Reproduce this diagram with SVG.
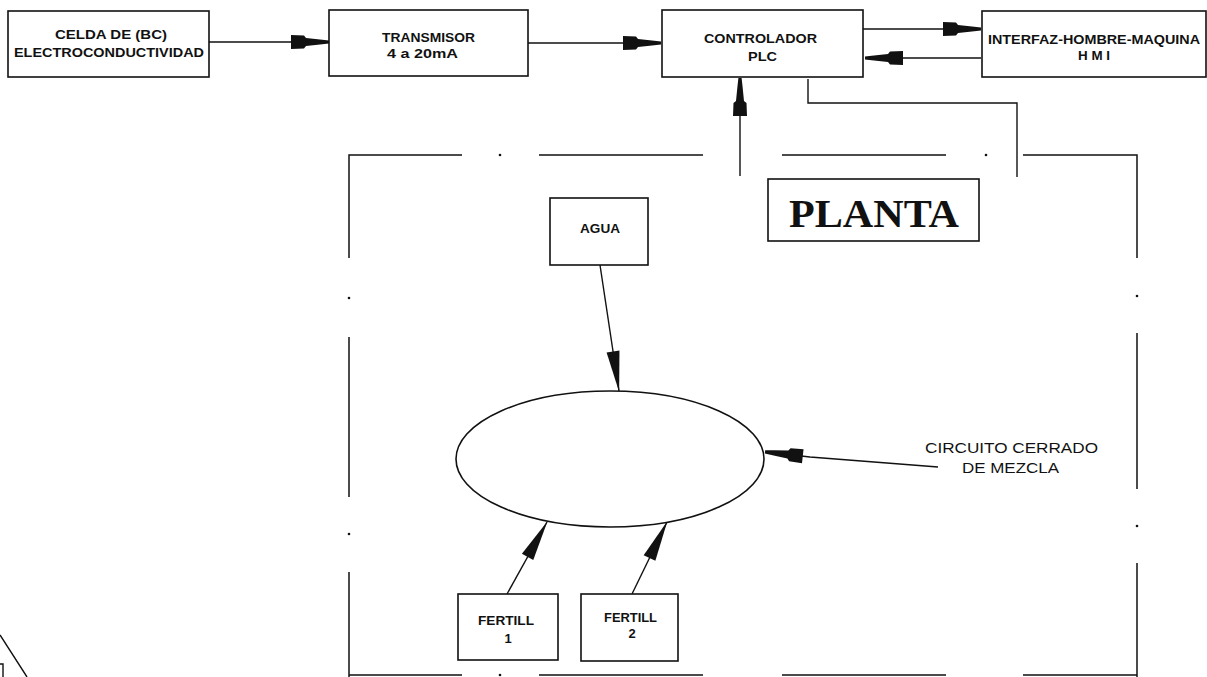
<svg xmlns="http://www.w3.org/2000/svg" width="1207" height="677" viewBox="0 0 1207 677">
<style>
  .box{fill:#fff;stroke:#111;stroke-width:1.6}
  .t{font-family:"Liberation Sans",Arial,sans-serif;font-weight:bold;font-size:13px;fill:#111}
  .tr{font-family:"Liberation Sans",Arial,sans-serif;font-size:14px;fill:#111}
  .big{font-family:"Liberation Serif","Times New Roman",serif;font-weight:bold;font-size:40px;fill:#111}
  .ln{fill:none;stroke:#111;stroke-width:1.4}
  .fr{fill:none;stroke:#111;stroke-width:1.5}
  .dot{fill:#111}
</style>
<defs>
  <marker id="fat" markerUnits="userSpaceOnUse" orient="auto" overflow="visible" markerWidth="1" markerHeight="1" refX="0" refY="0">
    <path d="M1,-1.6 L-8,-2.6 L-22,-4 L-24,-6.5 L-37,-7 L-37,7 L-24,6.5 L-22,4 L-8,2.6 L1,1.6 Z" fill="#111"/>
  </marker>
  <marker id="thin" markerUnits="userSpaceOnUse" orient="auto" overflow="visible" markerWidth="1" markerHeight="1" refX="0" refY="0">
    <path d="M1,0 L-40,-6.5 L-40,6.5 Z" fill="#111"/>
  </marker>
</defs>
<rect width="1207" height="677" fill="#fff"/>

<g id="frame">
  <path class="fr" d="M349,258 V155 H462 M539,155 H703 M782,155 H946 M1023,155 H1137 V258"/>
  <path class="fr" d="M349,337 V497 M349,572 V677 M1137,333 V489 M1137,563 V677"/>
  <path class="fr" d="M349,675 H462 M539,675 H703 M782,675 H946 M1023,675 H1137"/>
  <circle class="dot" cx="500" cy="155" r="1.3"/>
  <circle class="dot" cx="986" cy="155" r="1.3"/>
  <circle class="dot" cx="349" cy="298" r="1.3"/>
  <circle class="dot" cx="349" cy="534" r="1.3"/>
  <circle class="dot" cx="1137" cy="296" r="1.3"/>
  <circle class="dot" cx="1137" cy="526" r="1.3"/>
  <circle class="dot" cx="500" cy="675" r="1.3"/>
</g>

<g id="corner">
  <path class="ln" d="M0,635 L27,677 M0,664 H3 V677"/>
</g>

<g id="connectors">
  <path class="ln" d="M209,42 H328" marker-end="url(#fat)"/>
  <path class="ln" d="M528,43 H660" marker-end="url(#fat)"/>
  <path class="ln" d="M863,29 H980" marker-end="url(#fat)"/>
  <path class="ln" d="M981,58 H866" marker-end="url(#fat)"/>
  <path class="ln" d="M740,176 V79" marker-end="url(#fat)"/>
  <path class="ln" d="M808,79 V103 H1017 V177"/>
  <path class="ln" d="M600,265 L619,391" marker-end="url(#thin)"/>
  <path class="ln" d="M938,467 L810,457 L766,452" marker-end="url(#fat)"/>
  <path class="ln" d="M507,594 L547,522" marker-end="url(#thin)"/>
  <path class="ln" d="M632,594 L667,522" marker-end="url(#thin)"/>
</g>

<g id="celda">
  <rect class="box" x="8" y="11" width="201" height="66"/>
  <text class="t" x="55" y="39" textLength="112" lengthAdjust="spacingAndGlyphs">CELDA DE (BC)</text>
  <text class="t" x="14" y="57" textLength="190" lengthAdjust="spacingAndGlyphs">ELECTROCONDUCTIVIDAD</text>
</g>

<g id="transmisor">
  <rect class="box" x="329" y="10" width="199" height="66"/>
  <text class="t" x="382" y="42" textLength="93" lengthAdjust="spacingAndGlyphs">TRANSMISOR</text>
  <text class="t" x="387" y="58" textLength="71" lengthAdjust="spacingAndGlyphs">4 a 20mA</text>
</g>

<g id="controlador">
  <rect class="box" x="662" y="10" width="201" height="67"/>
  <text class="t" x="704" y="43" textLength="113" lengthAdjust="spacingAndGlyphs">CONTROLADOR</text>
  <text class="t" x="748" y="61" textLength="29" lengthAdjust="spacingAndGlyphs">PLC</text>
</g>

<g id="hmi">
  <rect class="box" x="982" y="11" width="224" height="66"/>
  <text class="t" x="988" y="44" textLength="212" lengthAdjust="spacingAndGlyphs">INTERFAZ-HOMBRE-MAQUINA</text>
  <text class="t" x="1078" y="60" textLength="32" lengthAdjust="spacingAndGlyphs">H M I</text>
</g>

<g id="planta">
  <rect class="box" x="768" y="179" width="211" height="62"/>
  <text class="big" x="789" y="227" textLength="170" lengthAdjust="spacingAndGlyphs">PLANTA</text>
</g>

<g id="agua">
  <rect class="box" x="550" y="198" width="98" height="67"/>
  <text class="t" x="580" y="233" textLength="40" lengthAdjust="spacingAndGlyphs">AGUA</text>
</g>

<g id="mezcla">
  <ellipse cx="610" cy="459" rx="154" ry="68" fill="#fff" stroke="#111" stroke-width="1.6"/>
</g>

<g id="circuito">
  <text class="tr" x="925" y="453" textLength="173" lengthAdjust="spacingAndGlyphs">CIRCUITO CERRADO</text>
  <text class="tr" x="962" y="473" textLength="97" lengthAdjust="spacingAndGlyphs">DE MEZCLA</text>
</g>

<g id="fertil1">
  <rect class="box" x="458" y="594" width="100" height="66"/>
  <text class="t" x="478" y="625" textLength="56" lengthAdjust="spacingAndGlyphs">FERTILL</text>
  <text class="t" x="508" y="643" text-anchor="middle">1</text>
</g>

<g id="fertil2">
  <rect class="box" x="581" y="594" width="97" height="67"/>
  <text class="t" x="604" y="622" textLength="53" lengthAdjust="spacingAndGlyphs">FERTILL</text>
  <text class="t" x="632" y="638" text-anchor="middle">2</text>
</g>
</svg>
